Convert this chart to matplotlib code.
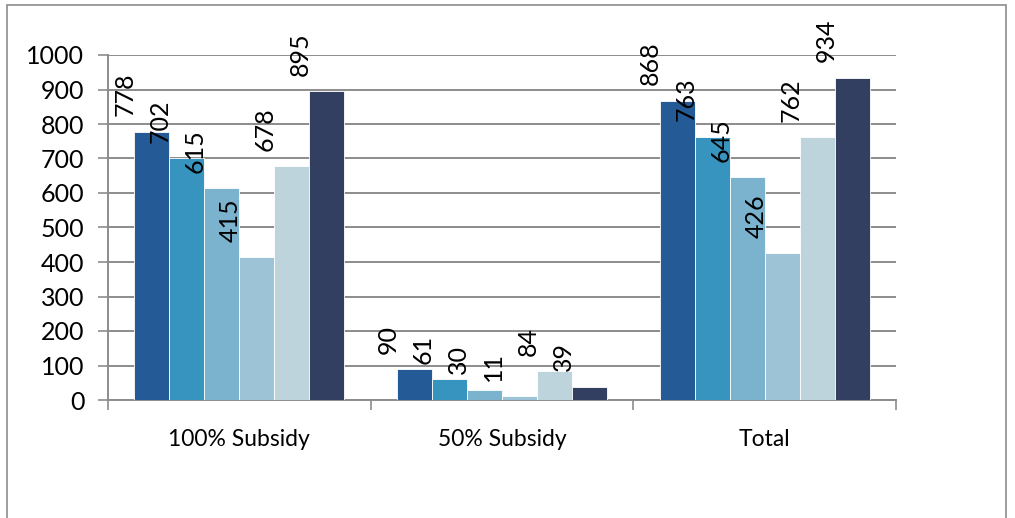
import matplotlib
matplotlib.use("Agg")
import matplotlib.pyplot as plt
from matplotlib.patches import Rectangle
import numpy as np

categories = ["100% Subsidy", "50% Subsidy", "Total"]
series_values = [
    [778, 90, 868],
    [702, 61, 763],
    [615, 30, 645],
    [415, 11, 426],
    [678, 84, 762],
    [895, 39, 934],
]
series_colors = ["#245A95", "#3794BE", "#7BB3CF", "#9DC4D6", "#BED4DC", "#333F61"]
y_ticks = [0, 100, 200, 300, 400, 500, 600, 700, 800, 900, 1000]

plt.rcParams["font.family"] = ["Lato", "DejaVu Sans"]

W, H, DPI = 1015, 518, 100
fig = plt.figure(figsize=(W / DPI, H / DPI), dpi=DPI)

# outer chart frame
fig.patches.append(Rectangle((7 / W, -0.05), (1006 - 7) / W, (H - 5) / H + 0.05,
                             transform=fig.transFigure, fill=False,
                             edgecolor="#8c8c8c", linewidth=1.2))

ax = fig.add_axes([108 / W, (H - 400) / H, (896 - 108) / W, (400 - 55) / H])

n = len(series_values)
bw = 0.8 / n
x = np.arange(len(categories))
for i, (vals, col) in enumerate(zip(series_values, series_colors)):
    pos = x + (i - (n - 1) / 2) * bw
    ax.bar(pos, vals, width=bw, color=col, edgecolor="white", linewidth=0.6, zorder=3)
    for xp, v in zip(pos, vals):
        ax.annotate(str(v), xy=(xp, v), xytext=(-19, 11), textcoords="offset points",
                    rotation=90, ha="center", va="bottom", fontsize=18, color="black",
                    zorder=4)

ax.set_xlim(-0.5, len(categories) - 0.5)
ax.set_ylim(0, 1000)
ax.set_yticks(y_ticks)
ax.set_yticklabels([str(t) for t in y_ticks], fontsize=18)
ax.yaxis.grid(True, color="#8c8c8c", linewidth=1.4, zorder=0)
ax.set_axisbelow(True)

ax.set_xticks(np.arange(len(categories) + 1) - 0.5)
ax.set_xticklabels([])
ax.set_xticks(x, minor=True)
ax.set_xticklabels(categories, minor=True, fontsize=16.5)
ax.tick_params(axis="x", which="minor", length=0, pad=21)
ax.tick_params(axis="x", which="major", length=7, color="#8c8c8c", width=1.2)
ax.tick_params(axis="y", length=7, color="#8c8c8c", width=1.2, pad=10)

for s in ["top", "right"]:
    ax.spines[s].set_visible(False)
for s in ["left", "bottom"]:
    ax.spines[s].set_color("#8c8c8c")
    ax.spines[s].set_linewidth(1.4)

fig.savefig("out.png", dpi=DPI)
